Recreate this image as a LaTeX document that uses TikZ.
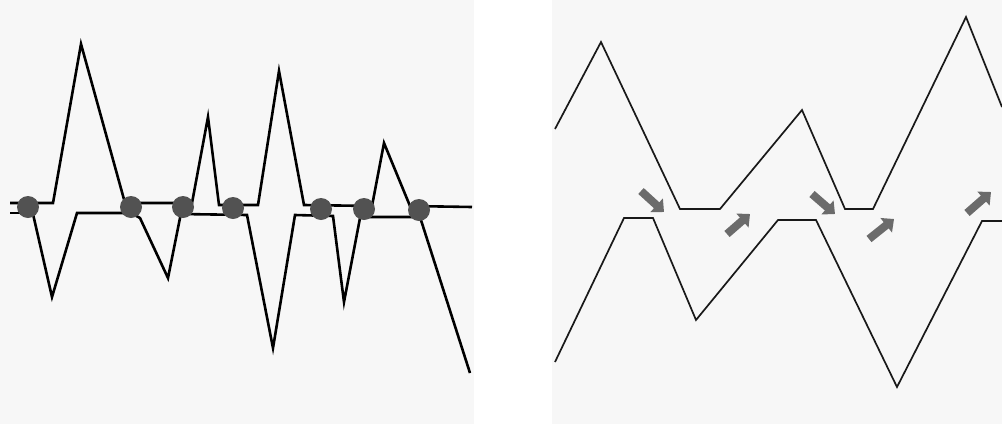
\documentclass[tikz,border=0pt]{standalone}
\usetikzlibrary{arrows.meta}
\begin{document}
\begin{tikzpicture}[x=1pt,y=-1pt,
  panel/.style={fill=black!3,draw=none},
  thickline/.style={line width=2.6pt,line join=miter,black},
  thinline/.style={line width=1.7pt,line join=miter,black!90},
  dot/.style={circle,fill=black!68,draw=none,minimum size=22pt,inner sep=0pt},
  movearrow/.style={line width=8pt,black!58,-{Triangle[length=10pt,width=18pt]}}]
\useasboundingbox (0,0) rectangle (1002,424);
\fill[panel] (0,0) rectangle (474,424);
\fill[panel] (552,0) rectangle (1002,424);
% left panel
\draw[thickline] (10,203) -- (53,203) -- (81,44) -- (125,203) -- (192,203) -- (208,117) -- (219,205) -- (258,205) -- (279,71) -- (304,205) -- (372,206) -- (384,143) -- (410,206) -- (472,207);
\draw[thickline] (10,213) -- (22,213);
\draw[thickline] (33,214) -- (52,297) -- (77,213) -- (131,213) -- (140,218) -- (168,278) -- (180,218) -- (181,214) -- (247,215) -- (273,348) -- (295,215) -- (333,216) -- (344,302) -- (360,218) -- (361,217) -- (420,217) -- (470,373);
\node[dot] (d1) at (28,207) {};
\node[dot] (d2) at (131,207) {};
\node[dot] (d3) at (183,207) {};
\node[dot] (d4) at (233,208) {};
\node[dot] (d5) at (321,209) {};
\node[dot] (d6) at (364,209) {};
\node[dot] (d7) at (419,210) {};
% right panel
\draw[thinline] (555,129) -- (601,42) -- (680,209) -- (720,209) -- (802,110) -- (845,209) -- (873,209) -- (966,17) -- (1002,107);
\draw[thinline] (555,362) -- (624,218) -- (653,218) -- (696,320) -- (778,220) -- (816,220) -- (897,387) -- (982,221) -- (1002,221);
\coordinate (a1s) at (641,191); \coordinate (a1e) at (664,212);
\coordinate (a2s) at (727,234); \coordinate (a2e) at (750,214);
\coordinate (a3s) at (812,194); \coordinate (a3e) at (835,214);
\coordinate (a4s) at (869,239); \coordinate (a4e) at (894,219);
\coordinate (a5s) at (967,213); \coordinate (a5e) at (991,192);
\draw[movearrow] (a1s) -- (a1e);
\draw[movearrow] (a2s) -- (a2e);
\draw[movearrow] (a3s) -- (a3e);
\draw[movearrow] (a4s) -- (a4e);
\draw[movearrow] (a5s) -- (a5e);
\end{tikzpicture}
\end{document}
